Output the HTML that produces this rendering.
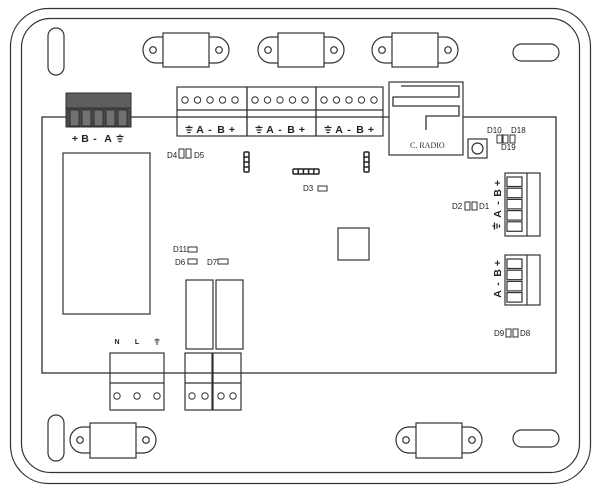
<!DOCTYPE html>
<html><head><meta charset="utf-8"><style>
html,body{margin:0;padding:0;background:#fff;}
svg{display:block;}
text{font-family:"Liberation Sans",sans-serif;fill:#222;}
.b{font-weight:bold;font-size:10.5px;}
.s{font-size:8px;}
</style></head><body>
<svg width="600" height="492" viewBox="0 0 600 492" xmlns="http://www.w3.org/2000/svg">
<g fill="none" stroke="#333" stroke-width="1.2">
  <!-- frame -->
  <rect x="10.5" y="8.5" width="580" height="475" rx="38"/>
  <rect x="21.5" y="18.5" width="558" height="454" rx="29"/>
  <!-- slots -->
  <rect x="48" y="28" width="16" height="47" rx="8"/>
  <rect x="48" y="415" width="16" height="46" rx="8"/>
  <rect x="513" y="44" width="46" height="17" rx="8.5"/>
  <rect x="513" y="430" width="46" height="17" rx="8.5"/>
  <!-- top tabs -->
  <rect x="163" y="33" width="46" height="34"/>
  <path d="M163 37 H156 A13 13 0 0 0 156 63 H163 M209 37 H216 A13 13 0 0 1 216 63 H209"/>
  <circle cx="153" cy="50" r="3.3"/><circle cx="219" cy="50" r="3.3"/>
  <rect x="278" y="33" width="46" height="34"/>
  <path d="M278 37 H271 A13 13 0 0 0 271 63 H278 M324 37 H331 A13 13 0 0 1 331 63 H324"/>
  <circle cx="268" cy="50" r="3.3"/><circle cx="334" cy="50" r="3.3"/>
  <rect x="392" y="33" width="46" height="34"/>
  <path d="M392 37 H385 A13 13 0 0 0 385 63 H392 M438 37 H445 A13 13 0 0 1 445 63 H438"/>
  <circle cx="382" cy="50" r="3.3"/><circle cx="448" cy="50" r="3.3"/>
  <!-- bottom tabs -->
  <rect x="90" y="423" width="46" height="35"/>
  <path d="M90 427 H83 A13 13 0 0 0 83 453 H90 M136 427 H143 A13 13 0 0 1 143 453 H136"/>
  <circle cx="80" cy="440" r="3.3"/><circle cx="146" cy="440" r="3.3"/>
  <rect x="416" y="423" width="46" height="35"/>
  <path d="M416 427 H409 A13 13 0 0 0 409 453 H416 M462 427 H469 A13 13 0 0 1 469 453 H462"/>
  <circle cx="406" cy="440" r="3.3"/><circle cx="472" cy="440" r="3.3"/>

  <!-- PCB -->
  <rect x="42" y="117" width="514" height="256" stroke-width="1.3"/>

  <!-- top terminal blocks -->
  <rect x="177" y="87" width="70" height="49"/>
  <rect x="247" y="87" width="69" height="49"/>
  <rect x="316" y="87" width="67" height="49"/>
  <path d="M177 110 H383"/>
  <g stroke-width="1">
  <circle cx="185" cy="100" r="3.2"/><circle cx="197.5" cy="100" r="3.2"/><circle cx="210" cy="100" r="3.2"/><circle cx="222.5" cy="100" r="3.2"/><circle cx="235" cy="100" r="3.2"/>
  <circle cx="255" cy="100" r="3.2"/><circle cx="267.5" cy="100" r="3.2"/><circle cx="280" cy="100" r="3.2"/><circle cx="292.5" cy="100" r="3.2"/><circle cx="305" cy="100" r="3.2"/>
  <circle cx="324" cy="100" r="3.2"/><circle cx="336.5" cy="100" r="3.2"/><circle cx="349" cy="100" r="3.2"/><circle cx="361.5" cy="100" r="3.2"/><circle cx="374" cy="100" r="3.2"/>
  </g>

  <!-- big left rect -->
  <rect x="63" y="153" width="87" height="161"/>
  <!-- center square -->
  <rect x="338" y="228" width="31" height="32"/>
  <!-- relays -->
  <rect x="186" y="280" width="27" height="69"/>
  <rect x="216" y="280" width="27" height="69"/>
  <!-- bottom blocks -->
  <rect x="110" y="353" width="54" height="57"/>
  <rect x="185" y="353" width="27" height="57"/>
  <rect x="213" y="353" width="28" height="57"/>
  <path d="M110 383 H164 M185 383 H241"/>
  <g stroke-width="1">
  <circle cx="117" cy="396" r="3.2"/><circle cx="137" cy="396" r="3.2"/><circle cx="157" cy="396" r="3.2"/>
  <circle cx="192" cy="396" r="3.2"/><circle cx="205" cy="396" r="3.2"/><circle cx="221" cy="396" r="3.2"/><circle cx="233" cy="396" r="3.2"/>
  </g>

  <!-- right connectors -->
  <rect x="505" y="173" width="35" height="63" fill="#fff"/>
  <path d="M527 173 V236"/>
  <rect x="507" y="177" width="15" height="9.5"/><rect x="507" y="188.2" width="15" height="9.5"/><rect x="507" y="199.4" width="15" height="9.5"/><rect x="507" y="210.6" width="15" height="9.5"/><rect x="507" y="221.8" width="15" height="9.5"/>
  <rect x="505" y="255" width="35" height="50" fill="#fff"/>
  <path d="M527 255 V305"/>
  <rect x="507" y="259" width="15" height="9.5"/><rect x="507" y="270.2" width="15" height="9.5"/><rect x="507" y="281.4" width="15" height="9.5"/><rect x="507" y="292.6" width="15" height="9.5"/>

  <!-- radio module -->
  <rect x="389" y="82" width="74" height="73" fill="#fff"/>
  <path d="M401 86 H459 V97 H393 V106 H459 V116 H426 V130" stroke-width="1.3"/>
  <!-- button -->
  <rect x="468" y="139" width="19" height="19"/>
  <circle cx="477.5" cy="148.5" r="5.5"/>

  <!-- small LEDs -->
  <g stroke-width="1">
  <rect x="179" y="149" width="5" height="9"/><rect x="186" y="149" width="5" height="9"/>
  <rect x="465" y="202" width="5" height="8"/><rect x="472" y="202" width="5" height="8"/>
  <rect x="506" y="329" width="5" height="8"/><rect x="513" y="329" width="5" height="8"/>
  <rect x="497" y="135" width="5" height="8"/><rect x="503" y="135" width="5" height="8"/><rect x="510" y="135" width="5" height="8"/>
  <rect x="318" y="186" width="9" height="5"/>
  <rect x="188" y="247" width="9" height="5"/>
  <rect x="188" y="259" width="9" height="5"/>
  <rect x="218" y="259" width="10" height="5"/>
  </g>
  <!-- LED arrays -->
  <g stroke="#222" stroke-width="1.5">
  <rect x="244" y="152" width="5" height="20" rx="1"/>
  <path d="M244 157 H249 M244 162 H249 M244 167 H249"/>
  <rect x="364" y="152" width="5" height="20" rx="1"/>
  <path d="M364 157 H369 M364 162 H369 M364 167 H369"/>
  <rect x="293" y="169" width="26" height="5" rx="1"/>
  <path d="M298.2 169 V174 M303.4 169 V174 M308.6 169 V174 M313.8 169 V174"/>
  </g>
</g>

<!-- dark connector -->
<g stroke="#2e2e2e" stroke-width="1">
  <rect x="66" y="93" width="65" height="34" fill="#4b4b4b"/>
  <rect x="66" y="93" width="65" height="15" fill="#5e5e5e"/>
  <rect x="70" y="110" width="9" height="16" fill="#717171"/>
  <rect x="82" y="110" width="9" height="16" fill="#717171"/>
  <rect x="94" y="110" width="9" height="16" fill="#717171"/>
  <rect x="106" y="110" width="9" height="16" fill="#717171"/>
  <rect x="118" y="110" width="9" height="16" fill="#717171"/>
</g>

<!-- ground symbols -->
<g stroke="#222" stroke-width="1.3" fill="none">
  <path d="M189 125.5 V127.5 M185.5 127.5 H192.5 M186.5 130 H191.5 M187.5 132.5 H190.5"/>
  <path d="M259 125.5 V127.5 M255.5 127.5 H262.5 M256.5 130 H261.5 M257.5 132.5 H260.5"/>
  <path d="M328 125.5 V127.5 M324.5 127.5 H331.5 M325.5 130 H330.5 M326.5 132.5 H329.5"/>
  <path d="M120 134.5 V136.5 M116.5 136.5 H123.5 M117.5 139 H122.5 M118.5 141.5 H121.5"/>
  <path d="M157 338.5 V340 M154.5 340 H159.5 M155.5 342 H158.5 M156 344 H158" stroke-width="1.1"/>
  <!-- rotated ground on right -->
  <path d="M492.5 226 H494.5 M494.5 222.5 V229.5 M497 223.5 V228.5 M499.5 224.5 V227.5"/>
</g>

<!-- top block labels -->
<g class="b" text-anchor="middle">
  <text x="200" y="133" class="b">A</text><text x="210" y="133" class="b">-</text><text x="221" y="133" class="b">B</text><text x="232" y="133" class="b">+</text>
  <text x="270" y="133" class="b">A</text><text x="280" y="133" class="b">-</text><text x="291" y="133" class="b">B</text><text x="302" y="133" class="b">+</text>
  <text x="339" y="133" class="b">A</text><text x="349" y="133" class="b">-</text><text x="360" y="133" class="b">B</text><text x="371" y="133" class="b">+</text>
  <text x="75" y="142" class="b">+</text><text x="85" y="142" class="b">B</text><text x="95" y="142" class="b">-</text><text x="108" y="142" class="b">A</text>
</g>
<g text-anchor="middle" style="font-weight:bold;font-size:7px">
  <text x="117" y="344">N</text><text x="137" y="344">L</text>
</g>
<!-- rotated right labels -->
<g class="b" text-anchor="middle">
  <text class="b" transform="translate(501,183) rotate(-90)">+</text>
  <text class="b" transform="translate(501,193) rotate(-90)">B</text>
  <text class="b" transform="translate(501,203) rotate(-90)">-</text>
  <text class="b" transform="translate(501,214) rotate(-90)">A</text>
  <text class="b" transform="translate(501,263) rotate(-90)">+</text>
  <text class="b" transform="translate(501,273) rotate(-90)">B</text>
  <text class="b" transform="translate(501,284) rotate(-90)">-</text>
  <text class="b" transform="translate(501,294) rotate(-90)">A</text>
</g>

<!-- small labels -->
<g class="s">
  <text x="167" y="158" class="s">D4</text><text x="194" y="158" class="s">D5</text>
  <text x="303" y="191" class="s">D3</text>
  <text x="173" y="252" class="s">D11</text>
  <text x="175" y="265" class="s">D6</text>
  <text x="207" y="265" class="s">D7</text>
  <text x="452" y="209" class="s">D2</text><text x="479" y="209" class="s">D1</text>
  <text x="494" y="336" class="s">D9</text><text x="520" y="336" class="s">D8</text>
  <text x="487" y="133" class="s">D10</text><text x="511" y="133" class="s">D18</text>
  <text x="501" y="150" class="s">D19</text>
</g>
<text x="410" y="148" style="font-family:'Liberation Serif',serif;font-size:8px;fill:#333">C. RADIO</text>
</svg>
</body></html>
